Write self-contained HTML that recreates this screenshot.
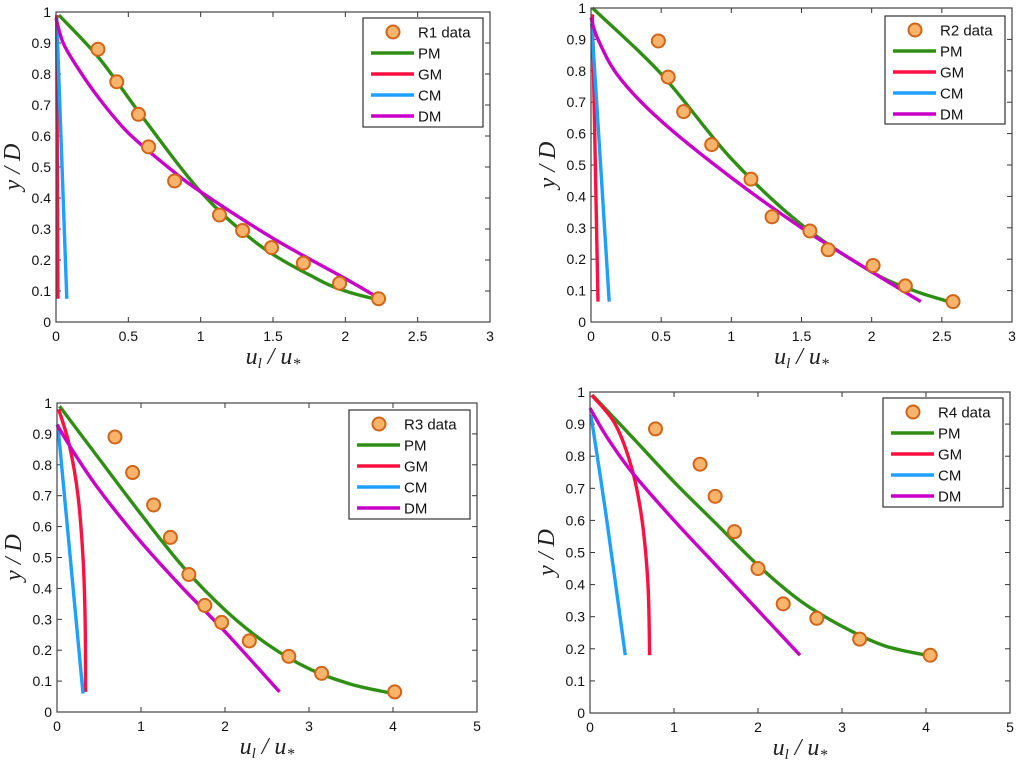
<!DOCTYPE html>
<html><head><meta charset="utf-8"><style>
html,body{margin:0;padding:0;background:#fff;}
svg{display:block;font-family:"Liberation Sans",sans-serif;}
</style></head><body>
<svg id="fig" width="1024" height="765" viewBox="0 0 1024 765"></svg>
<script>
// ---- data (x = u_l/u_*, y = y/D) ----
const r1Data=[[0.29,0.88],[0.42,0.775],[0.57,0.67],[0.64,0.565],[0.82,0.455],[1.13,0.345],[1.29,0.295],[1.49,0.24],[1.71,0.19],[1.96,0.125],[2.23,0.075]];
const r1PM=[[0.02,0.99],[0.3,0.85],[0.6,0.66],[1.0,0.42],[1.4,0.25],[1.8,0.14],[2.0,0.1],[2.2,0.075]];
const r1DM=[[0,0.98],[0.05,0.9],[0.15,0.82],[0.3,0.72],[0.5,0.61],[0.8,0.49],[1.0,0.42],[1.5,0.27],[2.0,0.14],[2.22,0.08]];
const r1GM=[[0.005,0.99],[0.013,0.075]];
const r1CM=[[0.005,0.98],[0.075,0.075]];

const r2Data=[[0.48,0.895],[0.55,0.78],[0.66,0.67],[0.86,0.565],[1.14,0.455],[1.29,0.335],[1.56,0.29],[1.69,0.23],[2.01,0.18],[2.24,0.115],[2.58,0.065]];
const r2PM=[[0.01,1.0],[0.5,0.79],[1.0,0.52],[1.5,0.31],[2.0,0.16],[2.3,0.1],[2.55,0.065]];
const r2DM=[[0,0.97],[0.05,0.9],[0.2,0.78],[0.5,0.64],[1.0,0.46],[1.5,0.3],[2.0,0.16],[2.35,0.065]];
const r2GM=[[0.01,0.98],[0.05,0.065]];
const r2CM=[[0.005,0.95],[0.13,0.065]];

const r3Data=[[0.69,0.89],[0.9,0.775],[1.15,0.67],[1.35,0.565],[1.57,0.445],[1.76,0.345],[1.96,0.29],[2.29,0.23],[2.76,0.18],[3.15,0.125],[4.02,0.065]];
const r3PM=[[0.03,0.99],[0.5,0.82],[1.0,0.64],[1.5,0.47],[2.0,0.33],[2.5,0.22],[3.0,0.14],[3.5,0.09],[4.0,0.06]];
const r3DM=[[0,0.93],[0.2,0.84],[0.5,0.72],[1.0,0.55],[1.5,0.4],[2.0,0.26],[2.65,0.065]];
const r3GM=[[0.02,0.98],[0.15,0.86],[0.25,0.7],[0.31,0.5],[0.335,0.3],[0.34,0.065]];
const r3CM=[[0.01,0.93],[0.31,0.06]];

const r4Data=[[0.78,0.885],[1.31,0.775],[1.49,0.675],[1.72,0.565],[2.0,0.45],[2.3,0.34],[2.7,0.295],[3.21,0.23],[4.05,0.18]];
const r4PM=[[0.03,0.99],[0.5,0.86],[1.0,0.72],[1.5,0.59],[2.0,0.46],[2.5,0.35],[3.0,0.27],[3.5,0.21],[4.0,0.18]];
const r4DM=[[0,0.95],[0.2,0.86],[0.5,0.75],[1.0,0.6],[1.5,0.46],[2.0,0.32],[2.5,0.18]];
const r4GM=[[0.02,0.99],[0.3,0.9],[0.5,0.76],[0.62,0.6],[0.69,0.4],[0.71,0.18]];
const r4CM=[[0.01,0.93],[0.2,0.6],[0.42,0.18]];

const xTicksA=[0,0.5,1,1.5,2,2.5,3];
const xTicksB=[0,1,2,3,4,5];
const yTicks=[0,0.1,0.2,0.3,0.4,0.5,0.6,0.7,0.8,0.9,1];

const NS="http://www.w3.org/2000/svg";
const svg=document.getElementById('fig');
function mk(tag,attrs,parent){const e=document.createElementNS(NS,tag);for(const k in attrs)e.setAttribute(k,attrs[k]);(parent||svg).appendChild(e);return e;}
function spline(pts){
  if(pts.length<3)return 'M'+pts.map(p=>p[0].toFixed(1)+','+p[1].toFixed(1)).join('L');
  let d='M'+pts[0][0]+','+pts[0][1];
  for(let i=0;i<pts.length-1;i++){
    const p0=pts[Math.max(0,i-1)],p1=pts[i],p2=pts[i+1],p3=pts[Math.min(pts.length-1,i+2)];
    const c1=[p1[0]+(p2[0]-p0[0])/6,p1[1]+(p2[1]-p0[1])/6];
    const c2=[p2[0]-(p3[0]-p1[0])/6,p2[1]-(p3[1]-p1[1])/6];
    d+='C'+c1[0].toFixed(1)+','+c1[1].toFixed(1)+' '+c2[0].toFixed(1)+','+c2[1].toFixed(1)+' '+p2[0].toFixed(1)+','+p2[1].toFixed(1);
  }
  return d;
}
const COL={PM:'#2f8f14',GM:'#ff1040',CM:'#1ea0ff',DM:'#c800c8'};

function panel(cfg){
  const g=mk('g',{});
  
  
  const {L,R,T,B,xmax}=cfg;
  const sx=v=>L+v/xmax*(R-L), sy=v=>B-v*(B-T);
  cfg.xt.forEach(t=>{
    const x=sx(t);
    mk('line',{x1:x,y1:B,x2:x,y2:B-5,stroke:'#333','stroke-width':1},g);
    mk('line',{x1:x,y1:T,x2:x,y2:T+5,stroke:'#333','stroke-width':1},g);
    const tx=mk('text',{x:x,y:B+19,'text-anchor':'middle','font-size':14,fill:'#111'},g);
    tx.textContent=String(t);
    
    
  });
  yTicks.forEach(t=>{
    const y=sy(t);
    mk('line',{x1:L,y1:y,x2:L+5,y2:y,stroke:'#333','stroke-width':1},g);
    mk('line',{x1:R,y1:y,x2:R-5,y2:y,stroke:'#333','stroke-width':1},g);
    const tx=mk('text',{x:L-5,y:y+5,'text-anchor':'end','font-size':14,fill:'#111'},g);
    tx.textContent=String(t);
    
    
  });
  const series=[['PM',cfg.pm],['GM',cfg.gm],['CM',cfg.cm],['DM',cfg.dm]];
  series.forEach(([n,d])=>{
    const p=mk('path',{d:spline(d.map(q=>[sx(q[0]),sy(q[1])])),fill:'none',stroke:COL[n],'stroke-width':3.4},g);
    
    
  });
  cfg.data.forEach(q=>{
    const c=mk('circle',{cx:sx(q[0]),cy:sy(q[1]),r:6.5,fill:'#f9b46c',stroke:'#d0651a','stroke-width':2},g);
    
    
  });
  const bx=mk('rect',{x:L,y:T,width:R-L,height:B-T,fill:'none',stroke:'#444','stroke-width':1.2},g);
  
  
  const xl=mk('text',{x:(L+R)/2,y:B+42,'text-anchor':'middle','font-size':24,'font-family':'Liberation Serif,serif','font-style':'italic',fill:'#222'},g);
  xl.innerHTML='u<tspan font-size="15" dy="4">l</tspan><tspan dy="-4"> / u</tspan><tspan font-size="16" dy="5">*</tspan>';
  
  
  const yx=L-36, yy=(T+B)/2;
  const yl=mk('text',{x:yx,y:yy,'text-anchor':'middle','font-size':24,'font-family':'Liberation Serif,serif','font-style':'italic',fill:'#222',transform:`rotate(-90 ${yx} ${yy})`},g);
  yl.textContent='y / D';
  
  
  const lg=mk('g',{},g);
  
  
  const [lx,ly,lw,lh]=cfg.leg;
  mk('rect',{x:lx,y:ly,width:lw,height:lh,fill:'#fff',stroke:'#333','stroke-width':1.2},lg);
  const labels=[cfg.id.toUpperCase()+' data','PM','GM','CM','DM'];
  labels.forEach((lab,i)=>{
    const y=ly+14+i*21;
    if(i===0){mk('circle',{cx:lx+30,cy:y,r:6.5,fill:'#f9b46c',stroke:'#d0651a','stroke-width':2},lg);}
    else mk('line',{x1:lx+8,y1:y,x2:lx+51,y2:y,stroke:COL[lab],'stroke-width':3.4},lg);
    const t=mk('text',{x:lx+55,y:y+5.5,'font-size':15,fill:'#111'},lg);
    t.textContent=lab;
    
    
  });
}
panel({id:'r1',L:56,R:490,T:12,B:322,xmax:3,xt:xTicksA,data:r1Data,pm:r1PM,gm:r1GM,cm:r1CM,dm:r1DM,leg:[363,18,120,109]});
panel({id:'r2',L:591,R:1012,T:8,B:322,xmax:3,xt:xTicksA,data:r2Data,pm:r2PM,gm:r2GM,cm:r2CM,dm:r2DM,leg:[885,16,120,108]});
panel({id:'r3',L:57,R:477,T:403,B:712,xmax:5,xt:xTicksB,data:r3Data,pm:r3PM,gm:r3GM,cm:r3CM,dm:r3DM,leg:[349,410,121,109]});
panel({id:'r4',L:590,R:1010,T:392,B:713,xmax:5,xt:xTicksB,data:r4Data,pm:r4PM,gm:r4GM,cm:r4CM,dm:r4DM,leg:[883,398,120,109]});
</script>
</body></html>
